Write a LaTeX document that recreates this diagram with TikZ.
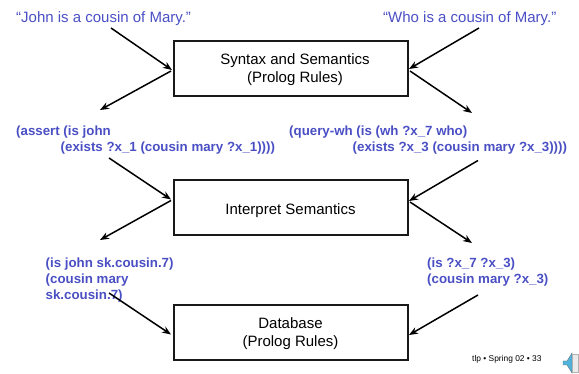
\documentclass[tikz,border=0pt]{standalone}
\usepackage{fontspec}
\setmainfont{Liberation Sans}
\usetikzlibrary{arrows.meta}
\definecolor{bluetxt}{HTML}{4A4FC4}
\definecolor{spk}{HTML}{4FB3DC}
\tikzset{
  procbox/.style={draw=black!90,line width=2pt,minimum width=234pt,minimum height=55pt,inner sep=0pt},
  boxtext/.style={align=center,font=\fontsize{15}{18.2}\selectfont,inner sep=0pt},
  quote/.style={text=bluetxt,inner sep=0pt,anchor=base west,font=\fontsize{15}{18}\selectfont},
  code/.style={text=bluetxt,inner sep=0pt,anchor=base west,font=\fontsize{13.3}{16}\selectfont\bfseries},
  flow/.style={draw=black,line width=1.5pt,-{Stealth[length=9pt,width=7pt]}},
}
\begin{document}
\begin{tikzpicture}[x=1pt,y=-1pt]
\useasboundingbox (0,0) rectangle (579,374);
\node[procbox,label={[boxtext,xshift=4.5pt,yshift=-0.5pt]center:Syntax and Semantics\\(Prolog Rules)}] (syn) at (290.5,69) {};
\node[procbox,label={[boxtext,yshift=-2.5pt]center:Interpret Semantics}] (int) at (290.5,208) {};
\node[procbox,label={[boxtext,yshift=-1pt]center:Database\\(Prolog Rules)}] (db) at (290.5,332.5) {};
\node[quote] (q1) at (16,23) {“John is a cousin of Mary.”};
\node[quote] (q2) at (383,23) {“Who is a cousin of Mary.”};
\node[code] (a1) at (16,135.5) {(assert (is john};
\node[code] (a2) at (60.5,151.5) {(exists ?x\_1 (cousin mary ?x\_1))))};
\node[code] (w1) at (289,135.5) {(query-wh (is (wh ?x\_7 who)};
\node[code] (w2) at (352.5,151.5) {(exists ?x\_3 (cousin mary ?x\_3))))};
\node[code] (r1) at (45.5,267.5) {(is john sk.cousin.7)};
\node[code] (r2) at (45.5,283.5) {(cousin mary};
\node[code] (r3) at (45.5,299.5) {sk.cousin.7)};
\node[code] (s1) at (427,267.5) {(is ?x\_7 ?x\_3)};
\node[code] (s2) at (427,283.5) {(cousin mary ?x\_3)};
\node[inner sep=0pt,anchor=base west,font=\fontsize{8.4}{10}\selectfont] (foot) at (472,362) {tlp • Spring 02 • 33};
% connector ends
\coordinate (c1) at (111,28); \coordinate (c1e) at (172,70);
\coordinate (c2) at (171,71); \coordinate (c2e) at (100,110);
\coordinate (c3) at (479,28); \coordinate (c3e) at (409,69);
\coordinate (c4) at (410,71); \coordinate (c4e) at (472,113);
\coordinate (c5) at (109,158); \coordinate (c5e) at (171,199.5);
\coordinate (c6) at (171,200.5); \coordinate (c6e) at (100,240);
\coordinate (c7) at (478,160.5); \coordinate (c7e) at (409,201);
\coordinate (c8) at (410,202); \coordinate (c8e) at (472,243);
\coordinate (c9) at (109,293); \coordinate (c9e) at (171,334.5);
\coordinate (c10) at (478,295); \coordinate (c10e) at (409,335);
\foreach \i in {1,...,10} \draw[flow] (c\i) -- (c\i e);
% speaker icon
\fill[spk,draw=black!60,line width=0.3pt] (563,361) -- (567,361) -- (572,353) -- (572,373) -- (567,365) -- (563,365) -- cycle;
\fill[black!8,draw=black!30,line width=0.3pt] (572,354) rectangle (578,372);
\end{tikzpicture}
\end{document}
